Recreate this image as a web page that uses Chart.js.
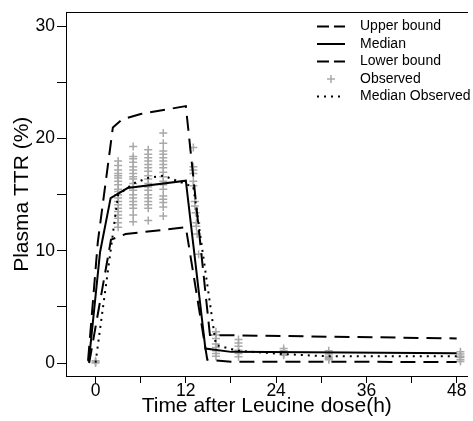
<!DOCTYPE html>
<html><head><meta charset="utf-8">
<script src="https://cdn.jsdelivr.net/npm/chart.js@4/dist/chart.umd.min.js"></script>
<style>html,body{margin:0;padding:0;background:#fff}canvas{display:block}</style>
</head><body>
<canvas id="c" width="473" height="421"></canvas>
<script>
// ---- data ----
const upperT = [-1.0, 0.3, 2.3, 3.5, 6, 12, 15.2, 48];
const upperY = [0.2, 10.8, 21.0, 21.7, 22.2, 22.9, 2.5, 2.2];
const medianT = [-0.9, 0.6, 2.0, 4.25, 12, 14.6, 18, 48];
const medianY = [0.1, 9.9, 14.7, 15.6, 16.25, 1.3, 1.0, 0.88];
const lowerT = [-0.85, 2.05, 4, 12, 14.85, 18, 48];
const lowerY = [0.0, 11.0, 11.5, 12.1, 0.3, 0.13, 0.1];
const medObsT = [0, 3, 5, 7, 9, 13, 16, 19, 25, 31, 48.5];
const medObsY = [0.05, 15.0, 16.0, 16.5, 16.7, 15.7, 1.6, 1.1, 0.8, 0.6, 0.6];

const obs0  = [0.0, 0.1, 0.2];
const obs3  = [18.0, 17.6, 17.2, 16.9, 16.7, 16.5, 16.2, 15.9, 15.5, 15.3, 15.0, 14.7, 14.4, 14.1, 13.8, 13.5, 13.2, 12.9, 12.5, 12.1];
const obs5  = [19.3, 18.4, 18.2, 17.9, 17.5, 17.2, 16.9, 16.6, 16.4, 16.0, 15.7, 15.4, 15.0, 14.7, 14.4, 14.1, 13.8, 13.2, 12.6];
const obs7  = [19.0, 18.6, 18.3, 18.0, 17.7, 17.4, 17.1, 16.7, 16.4, 16.0, 15.7, 15.4, 15.0, 14.7, 14.4, 14.1, 13.8, 12.7];
const obs9  = [20.5, 19.6, 18.9, 18.6, 18.3, 18.0, 17.7, 17.4, 17.0, 16.6, 16.2, 15.9, 15.5, 14.9, 14.6, 14.3, 13.9, 13.1];
const obs13T = [13, 13, 13, 13, 13, 13, 13.2, 13.2, 13.3, 13.4, 13.4, 13.5, 13.7];
const obs13Y = [19.2, 17.5, 17.2, 16.9, 16.2, 15.8, 14.4, 14.0, 13.4, 12.5, 12.2, 11.5, 9.7];
const obs16 = [2.8, 2.5, 2.2, 1.7, 1.4, 1.1, 0.86, 0.6];
const obs19 = [2.1, 1.8, 1.5, 1.15, 0.86, 0.56];
const obs25 = [1.3, 1.1, 0.9, 0.8, 0.7];
const obs31 = [1.1, 0.8, 0.6, 0.5, 0.4, 0.3];
const obs48 = [1.0, 0.8, 0.6, 0.5, 0.3, 0.15];

const xTickLabels = [0, 12, 24, 36, 48];
const yTickLabels = [0, 10, 20, 30];

const seriesNames = ['Upper bound', 'Median', 'Lower bound', 'Observed', 'Median Observed'];
const xTitle = 'Time after Leucine dose(h)';
const yTitle = 'Plasma TTR (%)';

// ---- build ----
const zip = (t, y) => t.map((v, i) => ({x: v, y: y[i]}));
const col = (t, ys) => ys.map(v => ({x: t, y: v}));
const observed = [].concat(
  col(0, obs0), col(3, obs3), col(5, obs5), col(7, obs7), col(9, obs9),
  zip(obs13T, obs13Y), col(16, obs16), col(19, obs19), col(25, obs25),
  col(31, obs31), col(48.5, obs48)
);

const FONT = "'Liberation Sans', Arial, Helvetica, sans-serif";
Chart.defaults.font.family = FONT;
Chart.defaults.color = '#000';

const GREY = '#a9a9a9';

const legendPlugin = {
  id: 'innerLegend',
  afterDraw(chart) {
    const ctx = chart.ctx;
    const x0 = 317, x1 = 345, tx = 360, y0 = 26.5, dy = 17.5;
    ctx.save();
    ctx.font = '14px ' + FONT;
    ctx.textBaseline = 'middle';
    ctx.textAlign = 'left';
    chart.data.datasets.forEach((ds, i) => {
      const y = y0 + i * dy;
      if (ds.showLine) {
        ctx.strokeStyle = ds.borderColor;
        ctx.lineWidth = ds.borderWidth;
        ctx.setLineDash(ds.legendDash || []);
        ctx.beginPath(); ctx.moveTo(x0, y); ctx.lineTo(x1, y); ctx.stroke();
      } else {
        ctx.setLineDash([]);
        ctx.strokeStyle = ds.borderColor;
        ctx.lineWidth = ds.borderWidth;
        const cx = (x0 + x1) / 2, r = ds.pointRadius;
        ctx.beginPath();
        ctx.moveTo(cx - r, y); ctx.lineTo(cx + r, y);
        ctx.moveTo(cx, y - r); ctx.lineTo(cx, y + r);
        ctx.stroke();
      }
      ctx.fillStyle = '#000';
      ctx.fillText(ds.label, tx, y);
    });
    ctx.restore();
  }
};

const XMIN = -3.93, XMAX = 49.44;

new Chart(document.getElementById('c'), {
  type: 'scatter',
  data: {
    datasets: [
      {label: seriesNames[0], data: zip(upperT, upperY), showLine: true, borderColor: '#000', borderWidth: 2,
       borderDash: [15, 8], legendDash: [12, 5], pointRadius: 0, fill: false, order: 1},
      {label: seriesNames[1], data: zip(medianT, medianY), showLine: true, borderColor: '#000', borderWidth: 2,
       borderDash: [], pointRadius: 0, fill: false, order: 1},
      {label: seriesNames[2], data: zip(lowerT, lowerY), showLine: true, borderColor: '#000', borderWidth: 2,
       borderDash: [15, 8], legendDash: [12, 5], pointRadius: 0, fill: false, order: 1},
      {label: seriesNames[3], data: observed, showLine: false, pointStyle: 'cross', pointRadius: 4,
       borderColor: GREY, backgroundColor: GREY, borderWidth: 1.5, order: 5},
      {label: seriesNames[4], data: zip(medObsT, medObsY), showLine: true, borderColor: '#000', borderWidth: 2,
       borderDash: [2, 5], legendDash: [2, 5], pointRadius: 0, fill: false, order: 2}
    ]
  },
  options: {
    responsive: false,
    animation: false,
    layout: {padding: 0},
    plugins: {legend: {display: false}, tooltip: {enabled: false}},
    scales: {
      x: {
        type: 'linear', position: 'bottom', min: XMIN, max: XMAX,
        ticks: {stepSize: 6, includeBounds: false, autoSkip: false, maxRotation: 0,
                callback: v => xTickLabels.includes(v) ? String(v) : '',
                font: {size: 17.5}, padding: -2, color: '#000'},
        grid: {drawOnChartArea: false, drawTicks: true, tickLength: 7, color: '#000', lineWidth: 1},
        border: {display: true, color: '#000', width: 1},
        title: {display: true, text: xTitle, font: {size: 21}, padding: {top: 0, bottom: 2}, color: '#000'},
        afterFit: s => { s.height = 45; }
      },
      x2: {
        type: 'linear', position: 'top', min: XMIN, max: XMAX,
        ticks: {display: false},
        grid: {display: false, drawTicks: false},
        border: {display: true, color: '#000', width: 1},
        afterFit: s => { s.height = 10; }
      },
      y: {
        type: 'linear', position: 'left', min: -1.15, max: 31.24,
        ticks: {stepSize: 5, includeBounds: false,
                callback: v => yTickLabels.includes(v) ? String(v) : '',
                font: {size: 17.5}, padding: 2, color: '#000'},
        grid: {drawOnChartArea: false, drawTicks: true, tickLength: 9, color: '#000', lineWidth: 1},
        border: {display: true, color: '#000', width: 1},
        title: {display: true, text: yTitle, font: {size: 21}, padding: {top: 10, bottom: 0}, color: '#000'},
        afterFit: s => { s.width = 66; }
      }
    }
  },
  plugins: [legendPlugin]
});
</script>
</body></html>
